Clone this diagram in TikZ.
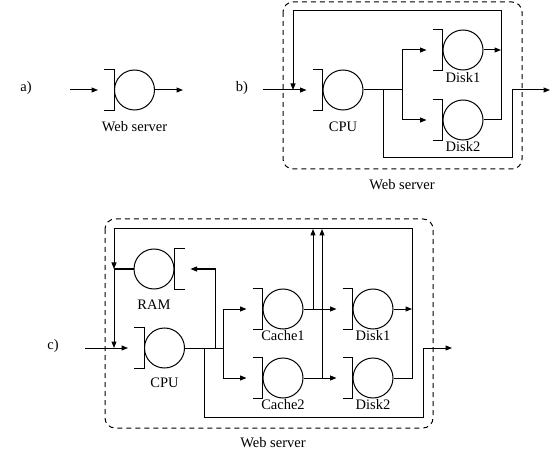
\documentclass[tikz,border=0pt]{standalone}
\usepackage{fontspec}
\setmainfont{Liberation Serif}
\usetikzlibrary{arrows.meta,calc}
\newcommand\brkL[1]{\draw ($(#1.west |- #1.north)+(-10pt,0pt)$) -- (#1.west |- #1.north) -- (#1.west |- #1.south) -- ($(#1.west |- #1.south)+(-10pt,0pt)$);}
\newcommand\brkR[1]{\draw ($(#1.east |- #1.north)+(10pt,0pt)$) -- (#1.east |- #1.north) -- (#1.east |- #1.south) -- ($(#1.east |- #1.south)+(10pt,0pt)$);}
\begin{document}
\begin{tikzpicture}[x=1pt,y=-1pt,line width=1pt,
  >={Triangle[length=6.5pt,width=5pt]},
  srv/.style={circle,draw,minimum size=40pt,inner sep=0pt},
  lbl/.style={inner sep=0pt,font=\fontsize{14.5}{17}\selectfont},
  boxline/.style={dash pattern=on 5pt off 4pt,rounded corners=10pt}]
\useasboundingbox (0,0) rectangle (557,457);

% ---------- a)
\node[lbl] (la) at (26,88) {a)};
\node[srv] (wa) at (134.5,90) {};
\brkL{wa}
\node[lbl] (wal) at (134.5,127) {Web server};
\coordinate (ain) at (70,90);
\coordinate (aout) at (183,90);
\draw[->] (ain) -- ($(wa.west)+(-16pt,0pt)$);
\draw[->] (wa.east) -- (aout);

% ---------- b)
\node[lbl] (lb) at (242,88) {b)};
\draw[boxline] (283,2) rectangle (522,169);
\node[srv] (cpub) at (343,90) {};
\node[srv] (d1b) at (463,50) {};
\node[srv] (d2b) at (463,120) {};
\brkL{cpub}\brkL{d1b}\brkL{d2b}
\node[lbl] (cpubl) at (343,127) {CPU};
\node[lbl] (d1bl) at (463,78) {Disk1};
\node[lbl] (d2bl) at (463,147) {Disk2};
\node[lbl] (wbl) at (402,185) {Web server};
\coordinate (bin) at (263,90);
\coordinate (bfb) at (293,90);
\coordinate (btl) at (293,11);
\coordinate (btr) at (501,11);
\coordinate (bj1) at (501,50);
\coordinate (bj2) at (501,120);
\coordinate (bsp) at (402,90);
\coordinate (bs1) at (402,50);
\coordinate (bs2) at (402,120);
\coordinate (bby) at (383,90);
\coordinate (bbl) at (383,158);
\coordinate (bbr) at (512,158);
\coordinate (bbu) at (512,90);
\coordinate (bout) at (550,90);
\draw[->] (bin) -- ($(cpub.west)+(-16pt,0pt)$);
\draw (cpub.east) -- (bsp);
\draw (bs1) -- (bs2);
\draw[->] (bs1) -- ($(d1b.west)+(-16pt,0pt)$);
\draw[->] (bs2) -- ($(d2b.west)+(-16pt,0pt)$);
\draw[->] (d1b.east) -- (bj1);
\draw[->] (d2b.east) -- (bj2) -- (btr) -- (btl) -- (bfb);
\draw[->] (bby) -- (bbl) -- (bbr) -- (bbu) -- (bout);

% ---------- c)
\node[lbl] (lc) at (53,346) {c)};
\draw[boxline] (105,219) rectangle (433,428);
\node[srv] (ram) at (154,269) {};
\node[srv] (cpuc) at (164.5,348) {};
\node[srv] (c1) at (283,309) {};
\node[srv] (c2) at (283,378) {};
\node[srv] (d1c) at (373,309) {};
\node[srv] (d2c) at (373,378) {};
\brkR{ram}\brkL{cpuc}\brkL{c1}\brkL{c2}\brkL{d1c}\brkL{d2c}
\node[lbl] (raml) at (154,305) {RAM};
\node[lbl] (cpucl) at (164.5,383) {CPU};
\node[lbl] (c1l) at (283,336) {Cache1};
\node[lbl] (c2l) at (283,405) {Cache2};
\node[lbl] (d1cl) at (373,336) {Disk1};
\node[lbl] (d2cl) at (373,405) {Disk2};
\node[lbl] (wcl) at (273,443) {Web server};
\coordinate (cin) at (85,348);
\coordinate (ctl) at (114,229);
\coordinate (ctr) at (412,229);
\coordinate (cfr) at (114,269);
\coordinate (cfc) at (114,348);
\coordinate (cj1) at (412,309);
\coordinate (cj2) at (412,378);
\coordinate (csp) at (223,348);
\coordinate (cs1) at (223,309);
\coordinate (cs2) at (223,378);
\coordinate (crb) at (215,348);
\coordinate (crt) at (215,269);
\coordinate (cby) at (204,348);
\coordinate (cbl) at (204,417);
\coordinate (cbr) at (423,417);
\coordinate (cbu) at (423,348);
\coordinate (cout) at (452,348);
\coordinate (cu1) at (313,309);
\coordinate (cu1t) at (313,229);
\coordinate (cu2) at (322,378);
\coordinate (cu2t) at (322,229);
\draw[->] (cin) -- ($(cpuc.west)+(-16pt,0pt)$);
\draw[->] (d2c.east) -- (cj2) -- (ctr) -- (ctl) -- (cfr);
\draw[->] (cfr) -- (cfc);
\draw (cfr) -- (ram.west);
\draw[->] (d1c.east) -- (cj1);
\draw (cpuc.east) -- (csp);
\draw (cs1) -- (cs2);
\draw[->] (cs1) -- ($(c1.west)+(-16pt,0pt)$);
\draw[->] (cs2) -- ($(c2.west)+(-16pt,0pt)$);
\draw[->] (crb) -- (crt) -- ($(ram.east)+(16pt,0pt)$);
\draw[->] (cby) -- (cbl) -- (cbr) -- (cbu) -- (cout);
\draw[->] (c1.east) -- ($(d1c.west)+(-16pt,0pt)$);
\draw[->] (c2.east) -- ($(d2c.west)+(-16pt,0pt)$);
\draw[->] (cu1) -- (cu1t);
\draw[->] (cu2) -- (cu2t);
\end{tikzpicture}
\end{document}
